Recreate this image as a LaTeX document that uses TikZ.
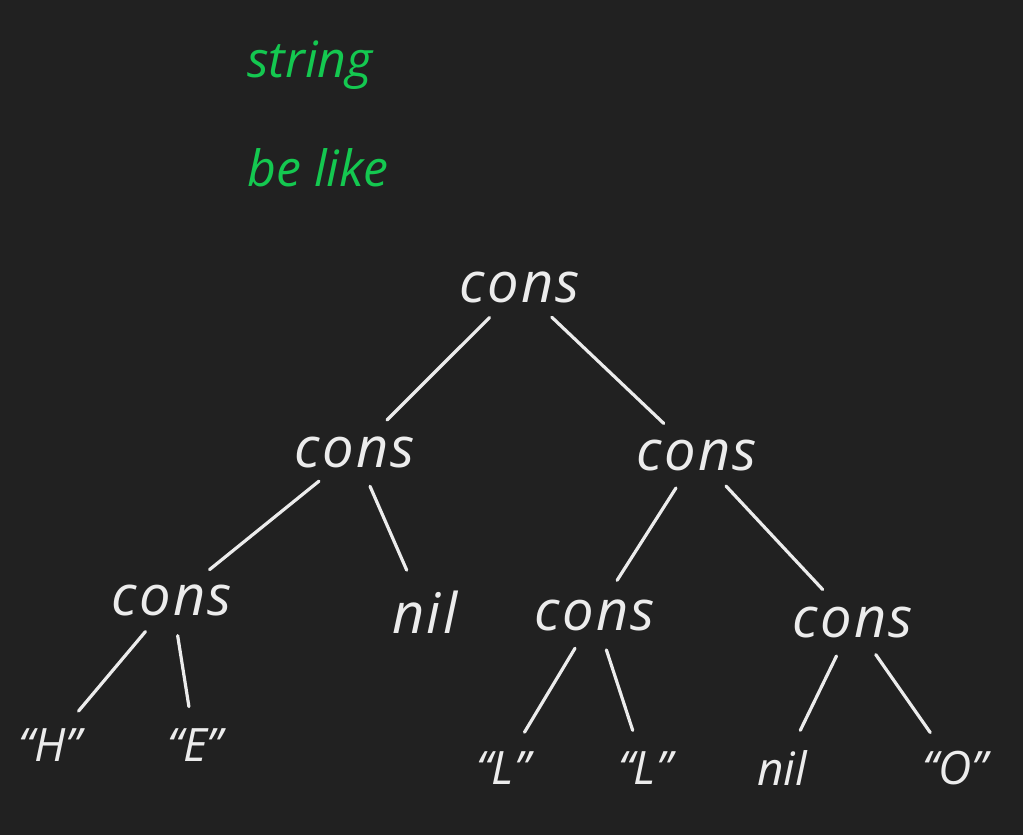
\documentclass[tikz,border=0pt]{standalone}
\usepackage{fontspec}
\setmainfont{Open Sans}
\definecolor{bg}{RGB}{33,33,33}
\definecolor{ink}{RGB}{236,236,236}
\definecolor{grn}{RGB}{20,200,80}
\begin{document}
\begin{tikzpicture}[x=1pt,y=-1pt,
  lbl/.style={text=ink,font=\fontsize{56}{58}\selectfont\itshape\addfontfeatures{LetterSpace=4},inner sep=2pt},
  leaf/.style={text=ink,font=\fontsize{46}{48}\selectfont\itshape,inner sep=2pt},
  note/.style={text=grn,font=\fontsize{50}{52}\selectfont\itshape,inner sep=2pt},
  conn/.style={draw=ink,line width=3.2pt,line cap=round,shorten >=20pt,shorten <=18pt}]
\fill[bg] (0,0) rectangle (1023,835);
\useasboundingbox (0,0) rectangle (1023,835);
\node[note] (s) at (310,65) {string};
\node[note] (b) at (318,168) {be like};
\node[lbl] (root) at (520,287) {cons};
\node[lbl] (l) at (355,452) {cons};
\node[lbl] (r) at (697,455) {cons};
\node[lbl] (ll) at (172,600) {cons};
\node[lbl] (n1) at (425,612) {nil};
\node[lbl] (rl) at (595,615) {cons};
\node[lbl] (rr) at (853,622) {cons};
\node[leaf] (h) at (50,745) {“H”};
\node[leaf] (e) at (195,745) {“E”};
\node[leaf] (la) at (503,768) {“L”};
\node[leaf] (lb) at (645,768) {“L”};
\node[leaf] (n2) at (782,768) {nil};
\node[leaf] (o) at (955,768) {“O”};
\draw[conn] (root) -- (l);
\draw[conn] (root) -- (r);
\draw[conn] (l) -- (ll);
\draw[conn] (l) -- (n1);
\draw[conn] (r) -- (rl);
\draw[conn] (r) -- (rr);
\draw[conn] (ll) -- (h);
\draw[conn] (ll) -- (e);
\draw[conn] (rl) -- (la);
\draw[conn] (rl) -- (lb);
\draw[conn] (rr) -- (n2);
\draw[conn] (rr) -- (o);
\end{tikzpicture}
\end{document}
